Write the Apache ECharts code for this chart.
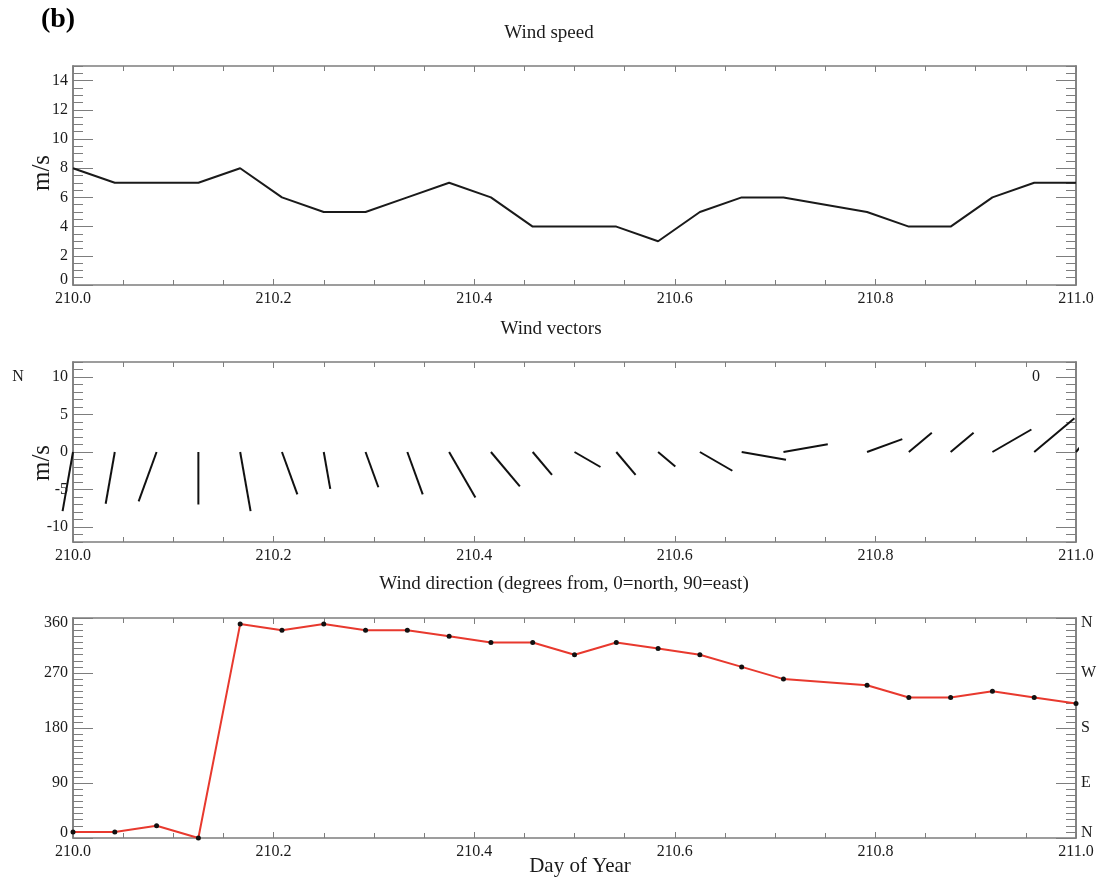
<!DOCTYPE html>
<html>
<head>
<meta charset="utf-8">
<script src="https://cdn.jsdelivr.net/npm/echarts@6/dist/echarts.min.js"></script>
<style>
html,body{margin:0;padding:0;background:#fff;}
#chart{width:1103px;height:881px;}
</style>
</head>
<body>
<div id="chart"></div>
<script>
// ---- data (hourly observations, day 210; hour 18 missing) ----
const day = 210;
const hours = [0,1,2,3,4,5,6,7,8,9,10,11,12,13,14,15,16,17,19,20,21,22,23,24];
const windSpeed = [8,7,7,7,8,6,5,5,6,7,6,4,4,4,3,5,6,6,5,4,4,6,7,7];
const windDirection = [10,10,20,0,350,340,350,340,340,330,320,320,300,320,310,300,280,260,250,230,230,240,230,220];

const speedTicks = [0,2,4,6,8,10,12,14];
const vectorTicks = [-10,-5,0,5,10];
const directionTicks = [0,90,180,270,360];
const compassLabels = {0:'N',90:'E',180:'S',270:'W',360:'N'};
const xTickLabels = ['210.0','210.2','210.4','210.6','210.8','211.0'];

const times = hours.map(h => day + h / 24);
const speedData = times.map((t, i) => [t, windSpeed[i]]);
const dirData = times.map((t, i) => [t, windDirection[i]]);
const vecData = times.map((t, i) => [t, windSpeed[i], windDirection[i]]);

const FONT = '"Liberation Serif","Times New Roman",serif';
const AXC = '#7d7d7d';
const TXT = '#1a1a1a';

const grids = [
  {left:73, right:27, top:66, height:219},
  {left:73, right:27, top:362, height:180},
  {left:73, right:27, top:618, height:220}
];

function xAxes(g) {
  const base = {
    type:'value', gridIndex:g, min:210, max:211, interval:0.2,
    axisLine:{show:true, onZero:false, lineStyle:{color:AXC, width:1.5}},
    axisTick:{show:true, inside:true, length:6, lineStyle:{color:AXC}},
    minorTick:{show:true, splitNumber:4, length:5, lineStyle:{color:AXC}},
    splitLine:{show:false}, minorSplitLine:{show:false}
  };
  return [
    Object.assign({}, base, {position:'bottom',
      axisLabel:{show:true, margin:6, fontFamily:FONT, fontSize:16, color:TXT,
        formatter: v => { const i = Math.round((v - 210) / 0.2); return xTickLabels[i] || ''; }}}),
    Object.assign({}, base, {position:'top', axisLabel:{show:false}})
  ];
}

function yAxes(g, min, max, step, majors, leftFmt, rightFmt) {
  const line = {show:true, onZero:false, lineStyle:{color:AXC, width:1.5}};
  const minor = pos => ({
    type:'value', gridIndex:g, position:pos, min:min, max:max, interval:step,
    axisLine:line, axisTick:{show:true, inside:true, length:10, lineStyle:{color:AXC}},
    axisLabel:{show:false}, splitLine:{show:false}
  });
  const major = (pos, fmt) => ({
    type:'value', gridIndex:g, position:pos, min:min, max:max,
    axisLine:line,
    axisTick:{show:true, inside:true, length:20, customValues:majors, lineStyle:{color:AXC}},
    axisLabel:{show:!!fmt, customValues:majors, margin:5, fontFamily:FONT, fontSize:16, color:TXT,
      formatter: fmt || (v => ''),
      rich:{top:{fontFamily:FONT, fontSize:16, color:TXT, padding:[9,0,0,0]},
            bot:{fontFamily:FONT, fontSize:16, color:TXT, padding:[0,0,10,0]}}},
    splitLine:{show:false}
  });
  return [minor('left'), major('left', leftFmt), minor('right'), major('right', rightFmt)];
}

const speedLeft = v => v === 0 ? '{bot|0}' : String(v);
const vecLeft = v => String(v);
const dirLeft = v => v === 360 ? '{top|360}' : (v === 0 ? '{bot|0}' : String(v));
const dirRight = v => v === 360 ? '{top|N}' : (v === 0 ? '{bot|N}' : compassLabels[v]);

const option = {
  animation:false,
  backgroundColor:'#fff',
  grid: grids,
  xAxis: [].concat(xAxes(0), xAxes(1), xAxes(2)),
  yAxis: [].concat(
    yAxes(0, 0, 15, 0.5, speedTicks, speedLeft, null),
    yAxes(1, -12, 12, 1, vectorTicks, vecLeft, null),
    yAxes(2, 0, 360, 10, directionTicks, dirLeft, dirRight)
  ),
  graphic: [
    {type:'text', x:58, y:20, style:{text:'(b)', font:'bold 28px ' + FONT, fill:'#000', align:'center', verticalAlign:'middle', textAlign:'center', textVerticalAlign:'middle'}},
    {type:'text', x:549, y:33, style:{text:'Wind speed', font:'19px ' + FONT, fill:TXT, align:'center', verticalAlign:'middle', textAlign:'center', textVerticalAlign:'middle'}},
    {type:'text', x:551, y:329, style:{text:'Wind vectors', font:'19px ' + FONT, fill:TXT, align:'center', verticalAlign:'middle', textAlign:'center', textVerticalAlign:'middle'}},
    {type:'text', x:564, y:584, style:{text:'Wind direction (degrees from, 0=north, 90=east)', font:'19px ' + FONT, fill:TXT, align:'center', verticalAlign:'middle', textAlign:'center', textVerticalAlign:'middle'}},
    {type:'text', x:580, y:866, style:{text:'Day of Year', font:'21px ' + FONT, fill:TXT, align:'center', verticalAlign:'middle', textAlign:'center', textVerticalAlign:'middle'}},
    {type:'text', x:42, y:173, rotation:Math.PI/2, style:{text:'m/s', font:'25px ' + FONT, fill:TXT, align:'center', verticalAlign:'middle', textAlign:'center', textVerticalAlign:'middle'}},
    {type:'text', x:42, y:463, rotation:Math.PI/2, style:{text:'m/s', font:'25px ' + FONT, fill:TXT, align:'center', verticalAlign:'middle', textAlign:'center', textVerticalAlign:'middle'}},
    {type:'text', x:18, y:377, style:{text:'N', font:'16px ' + FONT, fill:TXT, align:'center', verticalAlign:'middle', textAlign:'center', textVerticalAlign:'middle'}},
    {type:'text', x:1036, y:377, style:{text:'0', font:'16px ' + FONT, fill:TXT, align:'center', verticalAlign:'middle', textAlign:'center', textVerticalAlign:'middle'}}
  ],
  series: [
    {type:'line', name:'Wind speed', xAxisIndex:0, yAxisIndex:0, data:speedData,
     showSymbol:false, symbol:'none', lineStyle:{color:'#1a1a1a', width:2}},
    {type:'custom', name:'Wind vectors', xAxisIndex:2, yAxisIndex:4, data:vecData,
     renderItem: function (params, api) {
       const t = api.value(0), s = api.value(1), d = api.value(2) * Math.PI / 180;
       const u = -s * Math.sin(d), v = -s * Math.cos(d);
       const p0 = api.coord([t, 0]);
       const pu = api.coord([t, 1]);
       const k = p0[1] - pu[1];
       const pv = api.coord([t, v]);
       const cs = params.coordSys;
       return {
         type:'line',
         shape:{x1:p0[0], y1:p0[1], x2:p0[0] + u * k, y2:pv[1]},
         style:{stroke:'#111', lineWidth:2},
         clipPath:{type:'rect', shape:{x:0, y:cs.y, width:cs.x + cs.width + 3, height:cs.height}}
       };
     }},
    {type:'line', name:'Wind direction', xAxisIndex:4, yAxisIndex:8, data:dirData,
     symbol:'circle', symbolSize:5, showSymbol:true,
     lineStyle:{color:'#e8392e', width:2}, itemStyle:{color:'#111'}}
  ]
};

const chart = echarts.init(document.getElementById('chart'), null, {renderer:'canvas'});
chart.setOption(option);
</script>
</body>
</html>
